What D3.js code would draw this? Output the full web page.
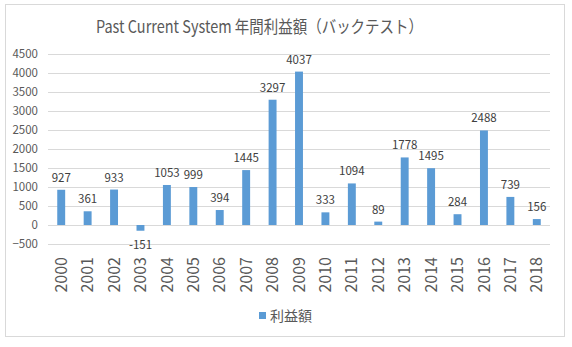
<!DOCTYPE html>
<meta charset="utf-8">
<style>
body { margin: 0; background: #fff; }
text { font-family: "Noto Sans CJK JP", "Noto Sans", sans-serif; }
.tick text { fill: #595959; }
.grid line { stroke: #d9d9d9; }
.label { font-size: 11.5px; fill: #404040; text-anchor: middle; }
</style>
<svg width="572" height="347"></svg>
<script src="https://d3js.org/d3.v7.min.js"></script>
<script>

var years = ["2000","2001","2002","2003","2004","2005","2006","2007","2008","2009",
             "2010","2011","2012","2013","2014","2015","2016","2017","2018"];
var profit = [927, 361, 933, -151, 1053, 999, 394, 1445, 3297, 4037,
              333, 1094, 89, 1778, 1495, 284, 2488, 739, 156];
var yTicks = [-500, 0, 500, 1000, 1500, 2000, 2500, 3000, 3500, 4000, 4500];
var title = "Past Current System 年間利益額（バックテスト）";
var seriesName = "利益額";

var svg = d3.select("svg");
var barColor = "#5b9bd5";

// chart border
svg.append("rect")
    .attr("x", 5.5).attr("y", 4.5)
    .attr("width", 559).attr("height", 332)
    .attr("fill", "#fff")
    .attr("stroke", "#d9d9d9");

svg.append("text")
    .attr("x", 96).attr("y", 33)
    .attr("textLength", 327)
    .attr("lengthAdjust", "spacingAndGlyphs")
    .style("font-size", "17px")
    .style("fill", "#595959")
    .text(title);

var x = d3.scaleBand()
    .domain(years)
    .range([48, 550])
    .paddingInner(0.7)
    .paddingOuter(0.35);

var y = d3.scaleLinear()
    .domain([-500, 4500])
    .range([244, 54]);

// gridlines
svg.append("g")
    .attr("class", "grid")
    .selectAll("line")
    .data(yTicks)
    .enter().append("line")
      .attr("x1", 48).attr("x2", 550)
      .attr("y1", function(d) { return Math.round(y(d)) + 0.5; })
      .attr("y2", function(d) { return Math.round(y(d)) + 0.5; });

// y axis labels
var yAxis = d3.axisLeft(y).tickValues(yTicks).tickFormat(d3.format("d"))
    .tickSize(0).tickPadding(10);
svg.append("g")
    .attr("transform", "translate(48,0)")
    .call(yAxis)
    .call(function(g) { g.select(".domain").remove(); })
    .selectAll("text")
      .style("font-size", "11.5px")
      .style("font-family", "\"Noto Sans CJK JP\", sans-serif");

// bars
svg.append("g")
    .selectAll("rect")
    .data(profit)
    .enter().append("rect")
      .attr("x", function(d, i) { return x(years[i]); })
      .attr("width", x.bandwidth())
      .attr("y", function(d) { return y(Math.max(0, d)); })
      .attr("height", function(d) { return Math.abs(y(d) - y(0)); })
      .attr("fill", barColor);

// data labels
svg.append("g")
    .selectAll("text")
    .data(profit)
    .enter().append("text")
      .attr("class", "label")
      .attr("x", function(d, i) { return x(years[i]) + x.bandwidth() / 2; })
      .attr("y", function(d) { return d >= 0 ? y(d) - 8 : y(d) + 18; })
      .text(function(d) { return d; });

// category labels (rotated, below the -500 line)
svg.append("g")
    .selectAll("text")
    .data(years)
    .enter().append("text")
      .attr("transform", function(d) {
        return "translate(" + (x(d) + x.bandwidth() / 2) + ",257) rotate(-90)";
      })
      .attr("text-anchor", "end")
      .attr("dy", "0.35em")
      .style("font-size", "16px")
      .style("fill", "#595959")
      .text(function(d) { return d; });

// legend
var legend = svg.append("g").attr("transform", "translate(259,312)");
legend.append("rect")
    .attr("width", 7).attr("height", 7)
    .attr("fill", barColor);
legend.append("text")
    .attr("x", 11).attr("y", 4)
    .attr("dy", "0.35em")
    .style("font-size", "14px")
    .style("fill", "#595959")
    .text(seriesName);

</script>
